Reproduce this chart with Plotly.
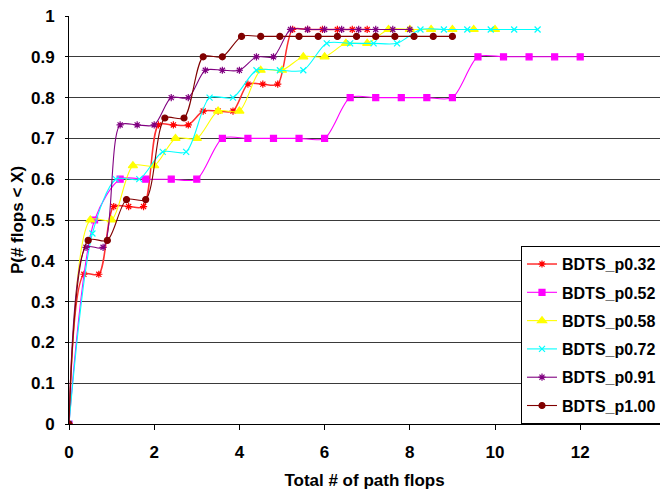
import plotly.graph_objects as go

# Cumulative share of runs with fewer path flops than X, one series per BDTS setting
series_names = ["BDTS_p0.32", "BDTS_p0.52", "BDTS_p0.58", "BDTS_p0.72", "BDTS_p0.91", "BDTS_p1.00"]

x_p032 = [0, 0.35, 0.7, 1.05, 1.4, 1.75, 2.1, 2.45, 2.8, 3.15, 3.5, 3.85, 4.2, 4.55, 4.9, 5.25, 5.6, 5.95, 6.3, 6.65, 7.0]
y_p032 = [0, 0.367, 0.367, 0.533, 0.533, 0.533, 0.733, 0.733, 0.733, 0.767, 0.767, 0.767, 0.833, 0.833, 0.833,
          0.967, 0.967, 0.967, 0.967, 0.967, 0.967]

x_p052 = [0, 0.6, 1.2, 1.8, 2.4, 3.0, 3.6, 4.2, 4.8, 5.4, 6.0, 6.6, 7.2, 7.8, 8.4, 9.0, 9.6, 10.2, 10.8, 11.4, 12.0]
y_p052 = [0, 0.5, 0.6, 0.6, 0.6, 0.6, 0.7, 0.7, 0.7, 0.7, 0.7, 0.8, 0.8, 0.8, 0.8, 0.8, 0.9, 0.9, 0.9, 0.9, 0.9]

x_p058 = [0, 0.5, 1.0, 1.5, 2.0, 2.5, 3.0, 3.5, 4.0, 4.5, 5.0, 5.5, 6.0, 6.5, 7.0, 7.5, 8.0, 8.5, 9.0, 9.5, 10.0]
y_p058 = [0, 0.5, 0.5, 0.633, 0.633, 0.7, 0.7, 0.767, 0.767, 0.867, 0.867, 0.9, 0.9, 0.933, 0.933,
          0.967, 0.967, 0.967, 0.967, 0.967, 0.967]

x_p072 = [0, 0.55, 1.1, 1.65, 2.2, 2.75, 3.3, 3.85, 4.4, 4.95, 5.5, 6.05, 6.6, 7.15, 7.7, 8.25, 8.8, 9.35, 9.9, 10.45, 11.0]
y_p072 = [0, 0.467, 0.6, 0.6, 0.667, 0.667, 0.8, 0.8, 0.867, 0.867, 0.867, 0.933, 0.933, 0.933, 0.933,
          0.967, 0.967, 0.967, 0.967, 0.967, 0.967]

x_p091 = [0, 0.4, 0.8, 1.2, 1.6, 2.0, 2.4, 2.8, 3.2, 3.6, 4.0, 4.4, 4.8, 5.2, 5.6, 6.0, 6.4, 6.8, 7.2, 7.6, 8.0]
y_p091 = [0, 0.433, 0.433, 0.733, 0.733, 0.733, 0.8, 0.8, 0.867, 0.867, 0.867, 0.9, 0.9,
          0.967, 0.967, 0.967, 0.967, 0.967, 0.967, 0.967, 0.967]

x_p100 = [0, 0.45, 0.9, 1.35, 1.8, 2.25, 2.7, 3.15, 3.6, 4.05, 4.5, 4.95, 5.4, 5.85, 6.3, 6.75, 7.2, 7.65, 8.1, 8.55, 9.0]
y_p100 = [0, 0.45, 0.45, 0.55, 0.55, 0.75, 0.75, 0.9, 0.9, 0.95, 0.95, 0.95, 0.95, 0.95, 0.95, 0.95,
          0.95, 0.95, 0.95, 0.95, 0.95]

x_ticks = [0, 2, 4, 6, 8, 10, 12, 14]
y_ticks = [0, 0.1, 0.2, 0.3, 0.4, 0.5, 0.6, 0.7, 0.8, 0.9, 1]
y_tick_text = ["0", "0.1", "0.2", "0.3", "0.4", "0.5", "0.6", "0.7", "0.8", "0.9", "1"]

xs = [x_p032, x_p052, x_p058, x_p072, x_p091, x_p100]
ys = [y_p032, y_p052, y_p058, y_p072, y_p091, y_p100]

styles = [
    dict(line="#FF3030", lw=1.5, marker="#FF0000", symbol="asterisk-open", size=6),
    dict(line="#FF00FF", lw=1.1, marker="#FF00FF", symbol="square", size=6),
    dict(line="#FFFF00", lw=1.1, marker="#FFFF00", symbol="triangle-up", size=8),
    dict(line="#00FFFF", lw=1.1, marker="#00FFFF", symbol="x-thin-open", size=6),
    dict(line="#800080", lw=1.1, marker="#800080", symbol="asterisk-open", size=6),
    dict(line="#800000", lw=1.1, marker="#800000", symbol="circle", size=6),
]

FONT = "Liberation Sans, Arial, sans-serif"

fig = go.Figure()
for i, (name, x, y, st) in enumerate(zip(series_names, xs, ys, styles)):
    fig.add_trace(go.Scatter(
        x=x, y=y, name=name, mode="lines+markers",
        legendgroup=f"g{i}",
        line=dict(color=st["line"], width=st["lw"], shape="spline", smoothing=0.8),
        marker=dict(color=st["marker"], symbol=st["symbol"], size=st["size"],
                    line=dict(color=st["marker"], width=1.2)),
    ))

fig.update_layout(
    width=660, height=493,
    margin=dict(l=69, r=0, t=16, b=69, autoexpand=False),
    paper_bgcolor="white", plot_bgcolor="white",
    font=dict(family=FONT, size=17, color="black", weight="bold"),
    showlegend=True,
    legend=dict(
        x=(521 - 69) / 591, y=0.436, xanchor="left", yanchor="top",
        bgcolor="white", bordercolor="black", borderwidth=1,
        font=dict(family=FONT, size=16, color="black", weight="bold"),
        tracegroupgap=4.5, itemwidth=30,
    ),
)

fig.update_xaxes(
    range=[0, 591 / 42.6], tickvals=x_ticks,
    showgrid=False, zeroline=False,
    showline=True, linecolor="black", linewidth=1,
    ticks="outside", ticklen=5, tickcolor="black",
    ticklabeloverflow="allow", ticklabelstandoff=8,
    tickfont=dict(family=FONT, size=17, weight="bold"),
    title=dict(text="Total # of path flops", standoff=12,
               font=dict(family=FONT, size=17, weight="bold")),
)
fig.update_yaxes(
    range=[0, 1], tickvals=y_ticks, ticktext=y_tick_text,
    showgrid=True, gridcolor="#3a3a3a", gridwidth=1,
    zeroline=False,
    showline=True, linecolor="black", linewidth=1,
    ticks="outside", ticklen=3, tickcolor="black",
    ticklabelstandoff=7,
    tickfont=dict(family=FONT, size=17, weight="bold"),
    title=dict(text="P(# flops < X)", standoff=3,
               font=dict(family=FONT, size=17, weight="bold")),
)

fig.write_html("out.html")
